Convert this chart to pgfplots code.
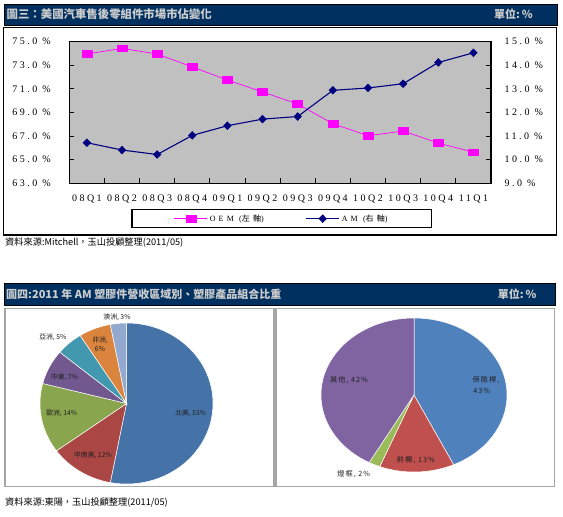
\documentclass[border=0pt]{standalone}
\usepackage{fontspec}
\usepackage{pgfplots}
\pgfplotsset{compat=1.18}
\usepackage{pgfplotstable}
\setmainfont{Liberation Serif}
\newfontfamily\cjk{Noto Sans CJK TC}
\newfontfamily\cjksp[LetterSpace=14]{Noto Sans CJK TC}
\newfontfamily\tickf[LetterSpace=25]{Liberation Serif}
\newfontfamily\legf[LetterSpace=40]{Liberation Serif}
\newfontfamily\cjkleg[LetterSpace=40]{Noto Sans CJK TC}
\definecolor{barnavy}{RGB}{0,48,96}
\definecolor{bartext}{RGB}{205,205,205}
\definecolor{plotgray}{RGB}{192,192,192}
\definecolor{oem}{RGB}{255,0,255}
\definecolor{am}{RGB}{0,0,128}
\definecolor{frgray}{RGB}{166,166,166}
\definecolor{lab}{RGB}{30,30,30}
\definecolor{pA}{HTML}{4572A7}
\definecolor{pB}{HTML}{AA4643}
\definecolor{pC}{HTML}{89A54E}
\definecolor{pD}{HTML}{71588F}
\definecolor{pE}{HTML}{4198AF}
\definecolor{pF}{HTML}{DB843D}
\definecolor{pG}{HTML}{93A9CF}
\definecolor{qA}{HTML}{4F81BD}
\definecolor{qB}{HTML}{C0504D}
\definecolor{qC}{HTML}{9BBB59}
\definecolor{qD}{HTML}{8064A2}

\pgfplotstableread{
idx oem am
1 73.96 10.72
2 74.43 10.41
3 73.96 10.22
4 72.86 11.03
5 71.75 11.44
6 70.74 11.72
7 69.72 11.83
8 68.05 12.94
9 67.03 13.04
10 67.43 13.22
11 66.41 14.12
12 65.64 14.53
}\trenddata

% start (cumulative %), share (%), colour, x radius, y radius
\newcommand{\pieslice}[5]{%
  \fill[#3, draw=white, line width=0.5pt] (axis cs:0,0) --
    (axis cs:{cos(90-3.6*#1)},{sin(90-3.6*#1)})
    arc[start angle={90-3.6*#1}, end angle={90-3.6*(#1+#2)}, x radius=#4, y radius=#5] -- cycle;}

\begin{document}
\begin{tikzpicture}
\path[use as bounding box, fill=white] (0pt,0pt) rectangle (563pt,-517pt);

% ---------- top panel ----------
\fill[barnavy, draw=black, line width=0.6pt] (4pt,-4pt) rectangle (557pt,-25pt);
\node[anchor=west, text=bartext, inner sep=0pt] at (6.5pt,-14.5pt)
  {\cjk\bfseries\fontsize{11.4}{12}\selectfont 圖三：美國汽車售後零組件市場市佔變化};
\node[anchor=west, text=bartext, inner sep=0pt] at (494pt,-14.5pt)
  {\cjk\bfseries\fontsize{11}{12}\selectfont 單位:\,\%};
\draw[black, line width=1.5pt] (3.6pt,-27.7pt) rectangle (556.7pt,-235pt);

\begin{axis}[
  at={(69.3pt,-183.3pt)}, anchor=south west,
  scale only axis, width=421.7pt, height=141.6pt,
  xmin=0.5, xmax=12.5, ymin=63, ymax=75,
  axis background/.style={fill=plotgray},
  axis line style={black, line width=1.2pt},
  xtick={1,...,12},
  xticklabels={08Q1,08Q2,08Q3,08Q4,09Q1,09Q2,09Q3,09Q4,10Q2,10Q3,10Q4,11Q1},
  major x tick style={draw=none},
  minor xtick={1.5,2.5,...,11.5},
  minor tick length=5pt,
  xtick pos=left,
  ytick={63,65,...,75},
  yticklabels={63.0 \%,65.0 \%,67.0 \%,69.0 \%,71.0 \%,73.0 \%,75.0 \%},
  ytick pos=left,
  major tick length=5pt,
  tick style={black, line width=1pt},
  tick align=inside,
  xticklabel style={font=\tickf\fontsize{10}{11}\selectfont, text=black, yshift=-8pt},
  yticklabel style={font=\tickf\fontsize{10}{11}\selectfont, text=black, xshift=-15pt},
  legend columns=2,
  legend style={at={(0.504,-0.1815)}, anchor=north, draw=black, line width=1.2pt,
    fill=white, inner xsep=42pt, inner ysep=3pt,
    font=\fontsize{8}{9}\selectfont,
    /tikz/every even column/.append style={column sep=40pt}},
  legend image code/.code={%
    \draw[mark repeat=2, mark phase=2] plot coordinates {(0pt,0pt) (16.5pt,0pt) (33pt,0pt)};},
]
\addplot[oem, line width=0.7pt, mark=square*, mark size=5pt,
  mark options={yscale=0.65, fill=oem, draw=oem}] table[x=idx, y=oem] {\trenddata};
\addlegendentry{{\legf OEM (}{\cjkleg 左軸}{\legf )}}
\addlegendimage{am, line width=1.1pt, mark=diamond*, mark size=3.5pt,
  mark options={xscale=1.3, fill=am, draw=am}}
\addlegendentry{{\legf AM (}{\cjkleg 右軸}{\legf )}}
\end{axis}

\begin{axis}[
  at={(69.3pt,-183.3pt)}, anchor=south west,
  scale only axis, width=421.7pt, height=141.6pt,
  xmin=0.5, xmax=12.5, ymin=9, ymax=15,
  axis x line=none, axis y line*=right,
  axis line style={black, line width=1.2pt},
  ytick={9,...,15},
  yticklabels={9.0 \%,10.0 \%,11.0 \%,12.0 \%,13.0 \%,14.0 \%,15.0 \%},
  major tick length=5pt,
  tick style={black, line width=1pt},
  tick align=inside,
  yticklabel style={font=\tickf\fontsize{10}{11}\selectfont, text=black, xshift=10pt},
]
\addplot[am, line width=1.1pt, mark=diamond*, mark size=3.5pt,
  mark options={xscale=1.3, fill=am, draw=am}] table[x=idx, y=am] {\trenddata};
\end{axis}

\node[anchor=west, inner sep=0pt] at (5pt,-243pt)
  {\cjk\fontsize{9.2}{10}\selectfont 資料來源:Mitchell，玉山投顧整理(2011/05)};

% ---------- bottom panel ----------
\fill[barnavy, draw=black, line width=0.6pt] (4pt,-283pt) rectangle (555pt,-305pt);
\node[anchor=west, text=bartext, inner sep=0pt] at (6pt,-294pt)
  {\cjk\bfseries\fontsize{11}{12}\selectfont 圖四:2011 年 AM 塑膠件營收區域別、塑膠產品組合比重};
\node[anchor=west, text=bartext, inner sep=0pt] at (497.7pt,-294pt)
  {\cjk\bfseries\fontsize{11}{12}\selectfont 單位:\,\%};
\draw[frgray, line width=1.5pt] (5pt,-308.3pt) rectangle (274pt,-486.7pt);
\draw[frgray, line width=1.5pt] (276pt,-308.3pt) rectangle (554.3pt,-486.7pt);

% left pie: region shares
\begin{axis}[at={(126.5pt,-403.5pt)}, anchor=center, scale only axis,
  width=173pt, height=161pt, xmin=-1, xmax=1, ymin=-1, ymax=1, hide axis]
\pieslice{0}{53}{pA}{86.5pt}{80.5pt}
\pieslice{53}{12}{pB}{86.5pt}{80.5pt}
\pieslice{65}{14}{pC}{86.5pt}{80.5pt}
\pieslice{79}{7}{pD}{86.5pt}{80.5pt}
\pieslice{86}{5}{pE}{86.5pt}{80.5pt}
\pieslice{91}{6}{pF}{86.5pt}{80.5pt}
\pieslice{97}{3}{pG}{86.5pt}{80.5pt}
\end{axis}

% right pie: product mix
\begin{axis}[at={(414pt,-395pt)}, anchor=center, scale only axis,
  width=186pt, height=154pt, xmin=-1, xmax=1, ymin=-1, ymax=1, hide axis]
\pieslice{0}{43}{qA}{93pt}{77pt}
\pieslice{43}{13}{qB}{93pt}{77pt}
\pieslice{56}{2}{qC}{93pt}{77pt}
\pieslice{58}{42}{qD}{93pt}{77pt}
\end{axis}

\begin{scope}[every node/.style={text=lab, inner sep=0pt, font=\cjk\fontsize{6.8}{7.5}\selectfont}]
\node at (190.7pt,-413pt) {北美, 53\%};
\node at (93pt,-455pt) {中南美, 12\%};
\node at (61.7pt,-413pt) {歐洲, 14\%};
\node at (64.7pt,-377.7pt) {中東, 7\%};
\node at (52.8pt,-337.3pt) {亞洲, 5\%};
\node at (100pt,-340pt) {非洲,};
\node at (100pt,-349.3pt) {6\%};
\node at (117pt,-317.7pt) {澳洲, 3\%};
\end{scope}
\begin{scope}[every node/.style={text=lab, inner sep=0pt, font=\cjksp\fontsize{7.2}{8}\selectfont}]
\node at (486pt,-380pt) {保險桿,};
\node at (481.7pt,-391pt) {43\%};
\node at (415.8pt,-460pt) {前欄, 13\%};
\node at (353.7pt,-474pt) {燈框, 2\%};
\node at (349pt,-380pt) {其他, 42\%};
\end{scope}

\node[anchor=west, inner sep=0pt] at (5pt,-502.7pt)
  {\cjk\fontsize{9.2}{10}\selectfont 資料來源:東陽，玉山投顧整理(2011/05)};
\end{tikzpicture}
\end{document}
